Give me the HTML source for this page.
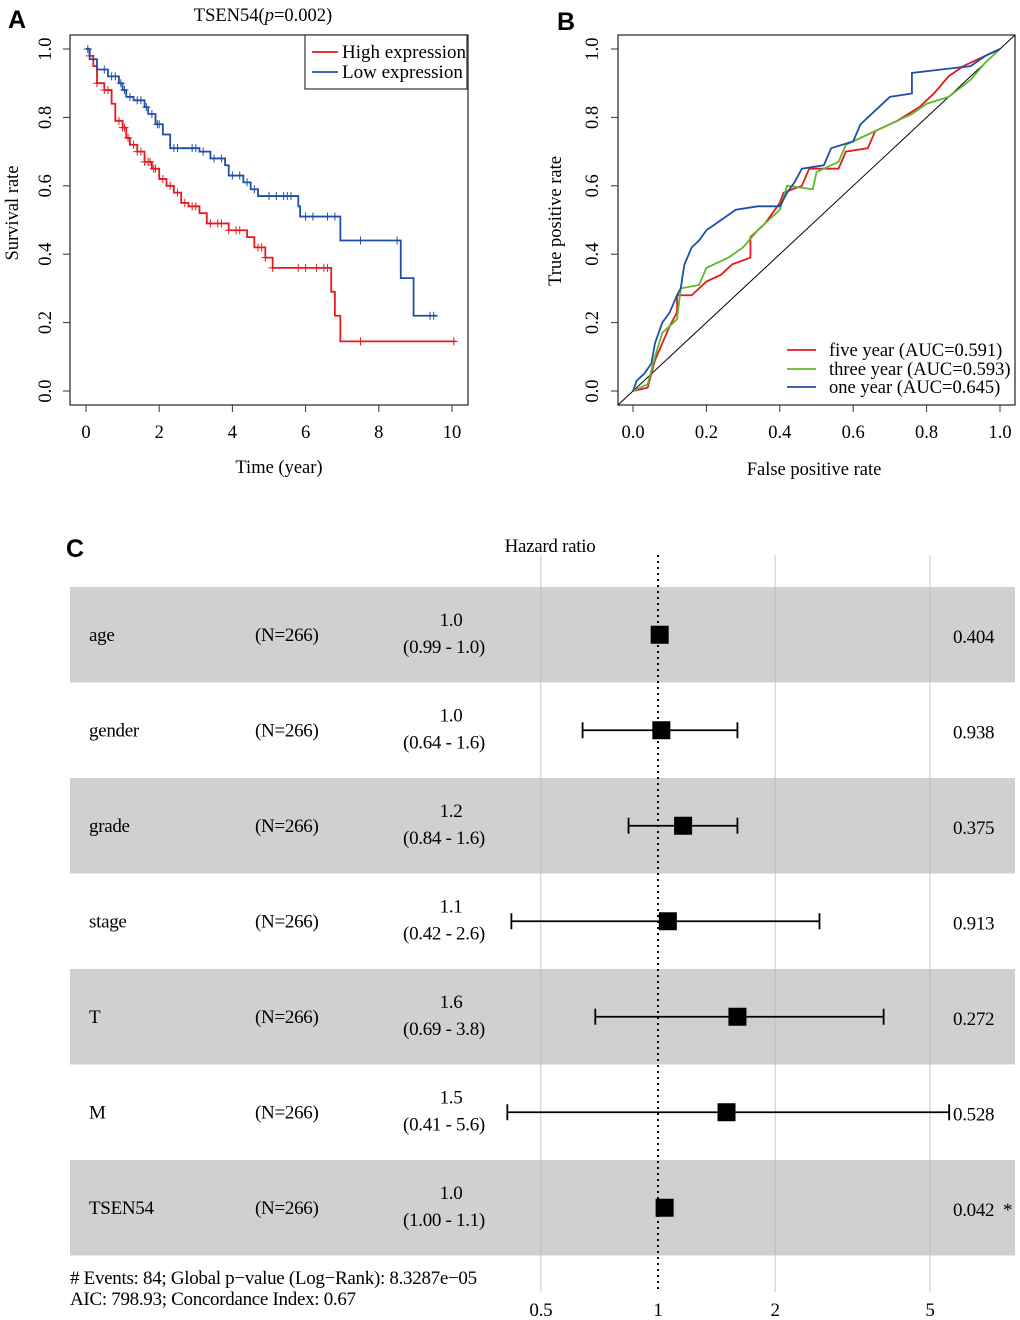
<!DOCTYPE html>
<html><head><meta charset="utf-8"><style>
body{margin:0;background:#fff}
svg{display:block;font-family:"Liberation Serif",serif}
.lab{font-family:"Liberation Sans",sans-serif;font-weight:bold;font-size:25px}
.cond{font-size:19px;letter-spacing:-0.3px}
</style></head><body>
<svg id="fig" width="1020" height="1320" viewBox="0 0 1020 1320">
<text class="lab" x="8" y="28">A</text>
<text class="lab" x="557" y="30">B</text>
<text class="lab" x="66" y="557">C</text>
<g id="km"></g>
<g id="roc"></g>
<g id="forest"></g>
</svg>
<script>
// ---- KM data ----
const highT=[0,0.1,0.2,0.3,0.5,0.7,0.8,1.0,1.1,1.2,1.4,1.6,1.8,2.0,2.2,2.4,2.6,2.8,3.1,3.3,3.9,4.4,4.6,4.9,5.1,6.7,6.8,6.95];
const highS=[1,0.98,0.95,0.9,0.88,0.84,0.79,0.77,0.74,0.72,0.70,0.67,0.65,0.62,0.60,0.58,0.55,0.54,0.52,0.49,0.47,0.45,0.42,0.39,0.36,0.29,0.22,0.145];
const highEnd=10.1;
const highCens=[0.1,0.3,0.5,0.6,0.9,1.0,1.05,1.15,1.3,1.4,1.5,1.6,1.7,1.75,1.85,1.9,2.1,2.3,2.5,2.7,2.9,3.0,3.4,3.6,3.7,3.9,4.1,4.2,4.7,4.8,4.9,5.1,5.8,6.0,6.3,6.5,6.6,7.5,10.05];
const lowT=[0,0.1,0.3,0.6,0.9,1.0,1.1,1.3,1.6,1.7,1.9,2.1,2.3,3.1,3.4,3.8,3.9,4.3,4.5,4.7,5.8,5.85,6.95,8.6,8.95];
const lowS=[1,0.97,0.94,0.92,0.90,0.88,0.86,0.85,0.83,0.81,0.78,0.75,0.71,0.70,0.68,0.66,0.63,0.61,0.59,0.57,0.54,0.51,0.44,0.33,0.22];
const lowEnd=9.6;
const lowCens=[0.05,0.5,0.7,0.8,0.95,1.05,1.2,1.4,1.5,1.65,1.8,1.95,2.0,2.4,2.5,2.9,3.0,3.2,3.5,3.7,4.0,4.2,4.4,4.6,5.0,5.2,5.4,5.5,5.6,6.0,6.2,6.6,6.8,7.5,8.5,9.4,9.5];
const kmXTicks=[0,2,4,6,8,10];
const kmYTicks=["0.0","0.2","0.4","0.6","0.8","1.0"];
// ---- ROC data ----
const rocBlueX=[0,0.01,0.03,0.05,0.06,0.08,0.10,0.12,0.13,0.14,0.16,0.18,0.20,0.24,0.28,0.34,0.40,0.42,0.44,0.46,0.52,0.54,0.60,0.62,0.66,0.70,0.76,0.76,0.84,0.92,0.96,1];
const rocBlueY=[0,0.03,0.05,0.08,0.14,0.20,0.23,0.28,0.30,0.37,0.42,0.44,0.47,0.50,0.53,0.54,0.54,0.58,0.61,0.65,0.66,0.71,0.73,0.78,0.82,0.86,0.87,0.93,0.94,0.95,0.98,1];
const rocRedX=[0,0.04,0.06,0.08,0.10,0.12,0.12,0.16,0.18,0.20,0.24,0.27,0.32,0.32,0.36,0.40,0.41,0.46,0.48,0.56,0.58,0.64,0.66,0.72,0.78,0.82,0.86,0.90,0.96,1];
const rocRedY=[0,0.01,0.09,0.14,0.19,0.23,0.28,0.28,0.30,0.32,0.34,0.37,0.39,0.45,0.49,0.55,0.58,0.60,0.65,0.65,0.70,0.71,0.76,0.79,0.83,0.87,0.92,0.95,0.98,1];
const rocGreenX=[0,0.04,0.06,0.08,0.12,0.13,0.18,0.20,0.26,0.30,0.34,0.40,0.42,0.49,0.50,0.56,0.58,0.64,0.70,0.76,0.80,0.86,0.92,0.96,1];
const rocGreenY=[0,0.02,0.10,0.17,0.21,0.30,0.31,0.36,0.39,0.42,0.47,0.53,0.60,0.59,0.64,0.67,0.72,0.75,0.78,0.81,0.84,0.86,0.91,0.96,1];
const rocTicks=["0.0","0.2","0.4","0.6","0.8","1.0"];
// ---- Forest data ----
const fNames=["age","gender","grade","stage","T","M","TSEN54"];
const fN=["(N=266)","(N=266)","(N=266)","(N=266)","(N=266)","(N=266)","(N=266)"];
const fHR=[1.01,1.02,1.16,1.06,1.6,1.5,1.04];
const fLo=[0.99,0.64,0.84,0.42,0.69,0.41,1.00];
const fHi=[1.0,1.6,1.6,2.6,3.8,5.6,1.1];
const fHRtxt=["1.0","1.0","1.2","1.1","1.6","1.5","1.0"];
const fCItxt=["(0.99 - 1.0)","(0.64 - 1.6)","(0.84 - 1.6)","(0.42 - 2.6)","(0.69 - 3.8)","(0.41 - 5.6)","(1.00 - 1.1)"];
const fP=["0.404","0.938","0.375","0.913","0.272","0.528","0.042"];
const fStar=["","","","","","","*"];
const fTicks=[0.5,1,2,5];

const NS="http://www.w3.org/2000/svg";
function mk(parent,tag,attrs,txt){const e=document.createElementNS(NS,tag);for(const k in attrs)e.setAttribute(k,attrs[k]);if(txt!==undefined)e.textContent=txt;parent.appendChild(e);return e;}
const FS=18.5;
// KM
(function(){
const g=document.getElementById('km');
const sx=t=>86+t*36.6, sy=s=>391-s*342;
const r=mk(g,'rect',{x:70,y:35,width:398,height:370,fill:'none',stroke:'#333','stroke-width':1.3});


const t=mk(g,'text',{x:263,y:21,'text-anchor':'middle','font-size':FS});


t.innerHTML='TSEN54(<tspan font-style="italic">p</tspan>=0.002)';
kmXTicks.forEach(v=>{const x=sx(v);mk(g,'line',{x1:x,x2:x,y1:405,y2:412,stroke:'#333'});
const e=mk(g,'text',{x:x,y:438,'text-anchor':'middle','font-size':FS},String(v));

});
kmYTicks.forEach(v=>{const y=sy(+v);mk(g,'line',{x1:63,x2:70,y1:y,y2:y,stroke:'#333'});
const e=mk(g,'text',{x:0,y:0,'text-anchor':'middle','font-size':FS,transform:`translate(51 ${y}) rotate(-90)`},v);

});
const xl=mk(g,'text',{x:279,y:473,'text-anchor':'middle','font-size':FS},'Time (year)');


const yl=mk(g,'text',{x:0,y:0,'text-anchor':'middle','font-size':FS,transform:'translate(18 213) rotate(-90)'},'Survival rate');


function curve(T,S,end,cens,col,name){
 let d=`M${sx(T[0])},${sy(S[0])}`;
 for(let i=1;i<T.length;i++){d+=`H${sx(T[i])}V${sy(S[i])}`;}
 d+=`H${sx(end)}`;
 const p=mk(g,'path',{d:d,fill:'none',stroke:col,'stroke-width':1.8});
 
 
 cens.forEach(c=>{let s=S[0];for(let i=0;i<T.length;i++)if(T[i]<=c)s=S[i];
  const x=sx(c),y=sy(s);
  const m=mk(g,'path',{d:`M${x-4},${y}H${x+4}M${x},${y-4}V${y+4}`,stroke:col,'stroke-width':1});
  
  });
}
curve(highT,highS,highEnd,highCens,'#e41a1c','high-expression');
curve(lowT,lowS,lowEnd,lowCens,'#1f4fa8','low-expression');
const lg=mk(g,'g',{});


mk(lg,'rect',{x:305,y:35,width:162,height:54,fill:'#fff',stroke:'#333','stroke-width':1.2});
mk(lg,'line',{x1:312,x2:338,y1:52,y2:52,stroke:'#e41a1c','stroke-width':1.8});
mk(lg,'line',{x1:312,x2:338,y1:72,y2:72,stroke:'#1f4fa8','stroke-width':1.8});
const l1=mk(lg,'text',{x:342,y:58,'font-size':19},'High expression');


const l2=mk(lg,'text',{x:342,y:78,'font-size':19},'Low expression');


})();

// ROC
(function(){
const g=document.getElementById('roc');
const sx=v=>633+v*367, sy=v=>391-v*342;
const r=mk(g,'rect',{x:618,y:35,width:397,height:370,fill:'none',stroke:'#333','stroke-width':1.3});


rocTicks.forEach(v=>{const x=sx(+v),y=sy(+v);
mk(g,'line',{x1:x,x2:x,y1:405,y2:412,stroke:'#333'});
const a=mk(g,'text',{x:x,y:438,'text-anchor':'middle','font-size':FS},v);


mk(g,'line',{x1:611,x2:618,y1:y,y2:y,stroke:'#333'});
const b=mk(g,'text',{x:0,y:0,'text-anchor':'middle','font-size':FS,transform:`translate(598 ${y}) rotate(-90)`},v);

});
const xl=mk(g,'text',{x:814,y:475,'text-anchor':'middle','font-size':FS},'False positive rate');


const yl=mk(g,'text',{x:0,y:0,'text-anchor':'middle','font-size':FS,transform:'translate(561 221) rotate(-90)'},'True positive rate');


const dg=mk(g,'line',{x1:618,y1:405,x2:1015,y2:35,stroke:'#000','stroke-width':1});


function line(X,Y,col,name){let d='';for(let i=0;i<X.length;i++){d+=(i?'L':'M')+sx(X[i])+','+sy(Y[i]);}
const p=mk(g,'path',{d:d,fill:'none',stroke:col,'stroke-width':1.8});

}
line(rocRedX,rocRedY,'#e41a1c','five-year-roc');
line(rocGreenX,rocGreenY,'#5db82e','three-year-roc');
line(rocBlueX,rocBlueY,'#1f4fa8','one-year-roc');
const ent=[['#e41a1c','five year (AUC=0.591)',355],['#5db82e','three year (AUC=0.593)',374],['#1f4fa8','one year (AUC=0.645)',392]];
ent.forEach(e=>{mk(g,'line',{x1:787,x2:816,y1:e[2]-5,y2:e[2]-5,stroke:e[0],'stroke-width':1.8});
const t=mk(g,'text',{x:829,y:e[2]+1,'font-size':FS},e[1]);

});
})();

// Forest
(function(){
const g=document.getElementById('forest');
const sx=v=>658+169*Math.log(v);
const top=587,rh=95.5;
fNames.forEach((n,i)=>{if(i%2===0){const r=mk(g,'rect',{x:70,y:top+i*rh,width:945,height:rh,fill:'#d0d0d0'});

}});
fTicks.forEach(v=>{if(v===1)return;const x=sx(v);mk(g,'line',{x1:x,x2:x,y1:555,y2:1292,stroke:'#bbb','stroke-width':0.8});});
const dl=mk(g,'line',{x1:658,x2:658,y1:555,y2:1292,stroke:'#000','stroke-width':2,'stroke-dasharray':'2,4'});


fTicks.forEach(v=>{const t=mk(g,'text',{x:sx(v),y:1316,'text-anchor':'middle',class:'cond'},String(v));

});
const ht=mk(g,'text',{x:550,y:552,'text-anchor':'middle',class:'cond'},'Hazard ratio');


fNames.forEach((n,i)=>{const cy=top+i*rh+rh/2;
const a=mk(g,'text',{x:89,y:cy+6,class:'cond'},n);


const b=mk(g,'text',{x:255,y:cy+6,class:'cond'},fN[i]);


const c=mk(g,'text',{x:451,y:cy-9,'text-anchor':'middle',class:'cond'},fHRtxt[i]);


const d=mk(g,'text',{x:444,y:cy+18,'text-anchor':'middle',class:'cond'},fCItxt[i]);


const e=mk(g,'text',{x:953,y:cy+8,class:'cond'},fP[i]);


if(fStar[i]){const s=mk(g,'text',{x:1003,y:cy+8,class:'cond'},fStar[i]);

}
const x1=sx(fLo[i]),x2=sx(fHi[i]);
if(x2-x1>25){const ci=mk(g,'path',{d:`M${x1},${cy-8}V${cy+8}M${x1},${cy}H${x2}M${x2},${cy-8}V${cy+8}`,stroke:'#000','stroke-width':1.8,fill:'none'});

}
const bx=mk(g,'rect',{x:sx(fHR[i])-9,y:cy-9,width:18,height:18,fill:'#000'});


});
const f1=mk(g,'text',{x:70,y:1284,class:'cond'},'# Events: 84; Global p\u2212value (Log\u2212Rank): 8.3287e\u221205');


const f2=mk(g,'text',{x:70,y:1305,class:'cond'},'AIC: 798.93; Concordance Index: 0.67');


})();
</script>
</body></html>
